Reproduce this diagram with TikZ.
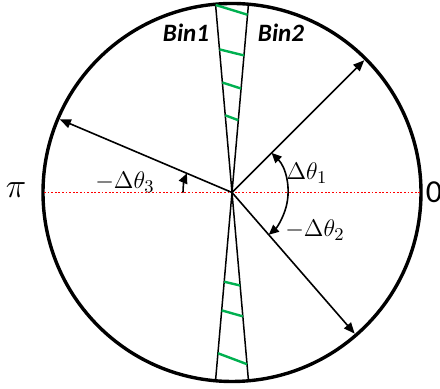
\documentclass[tikz,border=0pt]{standalone}
\usepackage{fontspec}
\newfontfamily\carlito{Carlito}
\usetikzlibrary{arrows.meta,calc}
\begin{document}
\begin{tikzpicture}[x=0.5pt,y=0.5pt,
  rim/.style={line width=1.7pt},
  binline/.style={line width=0.75pt},
  hatch/.style={line width=1.2pt, draw={rgb,255:red,0;green,176;blue,80}},
  ray/.style={line width=0.8pt,-{Triangle[length=5.5pt,width=4.5pt]}},
  angarc/.style={line width=0.8pt},
  axis/.style={line width=0.8pt, draw=red, dash pattern=on 0.9pt off 0.9pt},
  binlab/.style={font=\carlito\bfseries\itshape\fontsize{12.5}{14}\selectfont},
  mlab/.style={font=\fontsize{12.5}{14}\selectfont}]
\useasboundingbox (0,0) rectangle (440,389);
\coordinate (c) at (232,196.5);
\node[circle, draw, rim, minimum size=189pt, inner sep=0pt] (rimc) at (c) {};
% axis
\coordinate (w) at ($(c)+(180:188)$);
\coordinate (e) at ($(c)+(0:188)$);
\draw[axis] (w) -- (e);
% bins
\coordinate (T1) at ($(c)+(95:189)$);
\coordinate (B1) at ($(c)+(275:189)$);
\coordinate (T2) at ($(c)+(85:189)$);
\coordinate (B2) at ($(c)+(265:189)$);
\draw[binline] (T1) -- (B1);
\draw[binline] (T2) -- (B2);
\foreach \a/\b in {0.002/0.028, 0.120/0.136, 0.208/0.224, 0.295/0.308}
  \draw[hatch] ($(T1)!\a!(B1)$) -- ($(T2)!\b!(B2)$);
\foreach \a/\b in {0.737/0.747, 0.813/0.829, 0.927/0.956}
  \draw[hatch] ($(T2)!\a!(B2)$) -- ($(T1)!\b!(B1)$);
% rays
\coordinate (r1) at ($(c)+(45:187)$);
\coordinate (r2) at ($(c)+(-49:187)$);
\coordinate (r3) at ($(c)+(157:187)$);
\draw[ray] (c) -- (r1);
\draw[ray] (c) -- (r2);
\draw[ray] (c) -- (r3);
% angle arcs
\draw[angarc,{Triangle[length=5pt,width=4.5pt]}-{Triangle[length=5pt,width=4.5pt]}]
  ($(c)+(45:56)$) arc[start angle=45, end angle=-49, radius=56];
\draw[angarc,-{Triangle[length=5pt,width=4.5pt]}]
  ($(c)+(180:49)$) arc[start angle=180, end angle=157, radius=49];
% labels
\node[binlab] (bin1) at (186,356) {Bin1};
\node[binlab] (bin2) at (281,356) {Bin2};
\node[font=\fontsize{17}{19}\selectfont] (pi) at (16,199) {$\pi$};
\node[font=\carlito\fontsize{16}{18}\selectfont] (zero) at (434,197) {0};
\node[mlab] (d1) at (307,216) {$\Delta\theta_1$};
\node[mlab] (d2) at (315,159) {$-\Delta\theta_2$};
\node[mlab] (d3) at (125,207) {$-\Delta\theta_3$};
\end{tikzpicture}
\end{document}
